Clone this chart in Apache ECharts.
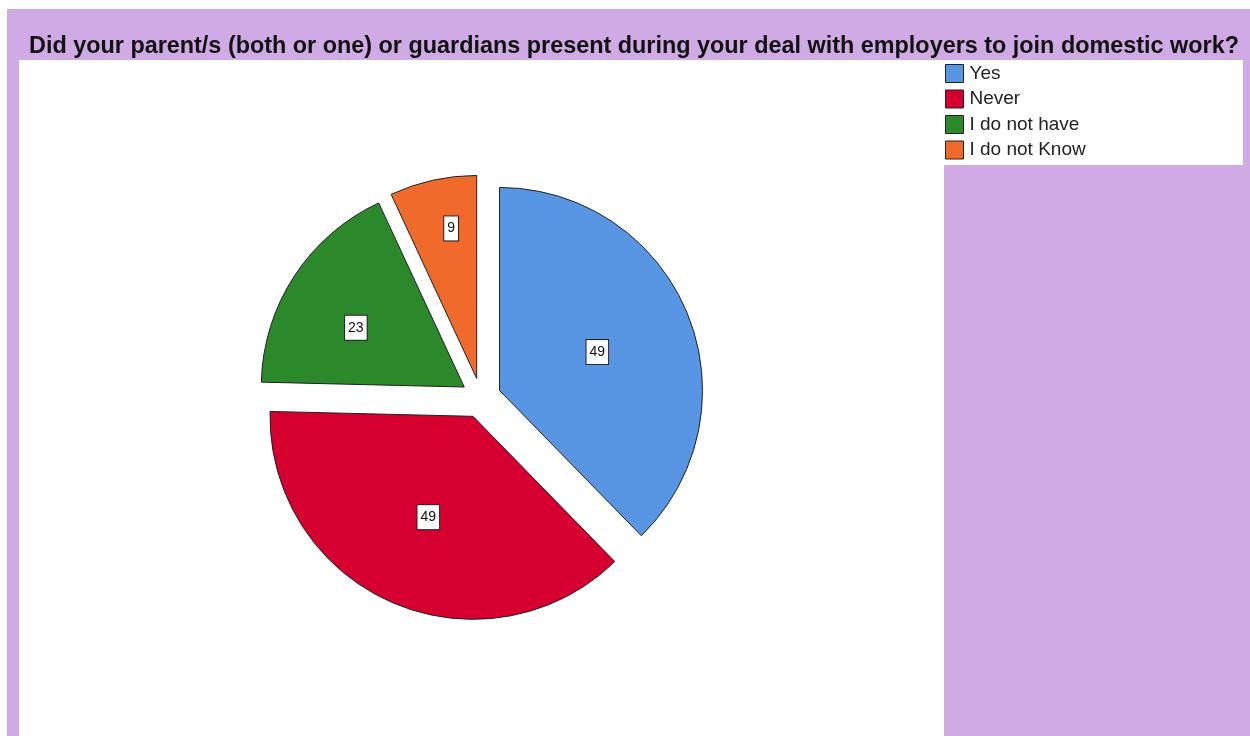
<!DOCTYPE html>
<html>
<head>
<meta charset="utf-8">
<script src="https://cdn.jsdelivr.net/npm/echarts@6/dist/echarts.min.js"></script>
<style>
html,body{margin:0;padding:0;background:#fff;}
#c{width:1250px;height:736px;}
</style>
</head>
<body>
<div id="c"></div>
<script>
const titleText = 'Did your parent/s (both or one) or guardians present during your deal with employers to join domestic work?';
const categories = ['Yes', 'Never', 'I do not have', 'I do not Know'];
const values = [49, 49, 23, 9];
const colors = ['#5896E3', '#D5002F', '#2B882B', '#F06A2C'];

const FONT = 'Arial, "Liberation Sans", sans-serif';
// small nudges of the value labels (as placed by SPSS)
const labelNudge = [[1, 1], [-3, 5], [-21, -2], [-3, -48]];

const chart = echarts.init(document.getElementById('c'));
chart.setOption({
  backgroundColor: 'transparent',
  animation: false,
  graphic: [
    {type: 'rect', z: -10, shape: {x: 7, y: 9, width: 1243, height: 727}, style: {fill: '#D0AAE4'}},
    {type: 'rect', z: -9, shape: {x: 19, y: 60, width: 925, height: 676}, style: {fill: '#ffffff'}},
    {type: 'rect', z: -9, shape: {x: 944, y: 60, width: 299, height: 105}, style: {fill: '#ffffff'}}
  ],
  title: {
    text: titleText,
    left: 629, top: 30, textAlign: 'center',
    textStyle: {fontFamily: FONT, fontSize: 23.4, fontWeight: 'bold', color: '#111'}
  },
  legend: {
    orient: 'vertical', left: 945, top: 64, padding: 0,
    itemWidth: 18, itemHeight: 18, itemGap: 6.5,
    icon: 'rect',
    itemStyle: {borderColor: '#222', borderWidth: 1},
    textStyle: {fontFamily: FONT, fontSize: 19, lineHeight: 18, color: '#222', padding: [0, 0, 0, 1]},
    data: categories
  },
  series: [{
    type: 'pie',
    center: [481, 398],
    radius: [0, 203],
    startAngle: 90,
    clockwise: true,
    selectedMode: 'multiple',
    selectedOffset: 20,
    emphasis: {disabled: true},
    itemStyle: {borderColor: '#222', borderWidth: 1},
    label: {
      show: true, position: 'inside',
      formatter: '{c}',
      fontFamily: FONT, fontSize: 14, color: '#111',
      backgroundColor: '#fff', borderColor: '#222', borderWidth: 1,
      padding: [5, 3, 5, 3]
    },
    labelLayout: function (p) {
      const n = labelNudge[p.dataIndex];
      return {dx: n[0], dy: n[1]};
    },
    labelLine: {show: false},
    data: categories.map((n, i) => ({
      name: n, value: values[i], selected: true,
      itemStyle: {color: colors[i]}
    }))
  }]
});
</script>
</body>
</html>
